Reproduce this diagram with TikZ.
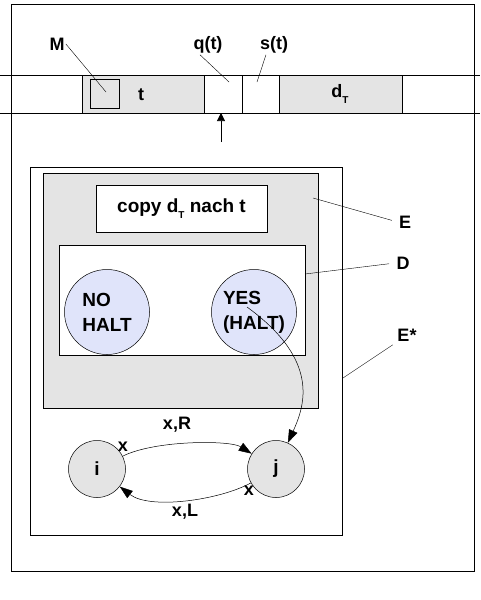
\documentclass[tikz,border=0pt]{standalone}
\usepackage{fontspec}
\setmainfont{Liberation Sans}
\usetikzlibrary{arrows.meta}
\definecolor{boxgray}{RGB}{228,228,228}
\definecolor{haltblue}{RGB}{224,228,250}
\newcommand{\lowsub}[1]{\raisebox{-0.35em}{\fontsize{10}{10}\selectfont #1}}
\tikzset{
    cell/.style={draw, anchor=north west, outer sep=0pt, inner sep=0pt}, % boxes placed by their top left corner
    lbl/.style={inner sep=1pt, font=\fontsize{18}{21}\selectfont\bfseries}, % text labels
    state/.style={circle, draw, line width=0.5pt, inner sep=0pt, font=\fontsize{19}{25}\selectfont\bfseries, align=left}, % round states
    leader/.style={line width=0.4pt}, % thin pointer lines
    tip/.style={line width=0.5pt, -{Triangle[length=13pt, width=9pt]}} % arrows between states
}
\begin{document}
\begin{tikzpicture}[x=1pt, y=-1pt, line width=0.8pt]
    \useasboundingbox (0,0) rectangle (480,600);
    \draw (11,4) rectangle (474,571);

    % tape
    \draw (0,75) -- (480,75) (0,113) -- (480,113);
    \node[cell, fill=boxgray, minimum width=122pt, minimum height=38pt] (tc) at (82,75) {};
    \node[cell, minimum width=38pt, minimum height=38pt] (qc) at (204,75) {};
    \node[cell, minimum width=37pt, minimum height=38pt] (sc) at (242,75) {};
    \node[cell, fill=boxgray, minimum width=123pt, minimum height=38pt] (dc) at (279,75) {};
    \node[cell, minimum width=29pt, minimum height=29pt] (msq) at (90,79) {};
    \node[lbl] (tl) at (141,95) {t};
    \node[lbl] (dl) at (340,94) {d\lowsub{T}};

    \node[lbl] (M) at (57,44) {M};
    \node[lbl] (q) at (208,45) {q(t)};
    \node[lbl] (s) at (274,45) {s(t)};
    \coordinate (mp) at (106,92);
    \coordinate (qp) at (229,82);
    \coordinate (sp) at (257,82);
    \draw[leader] (M.east) -- (mp);
    \draw[leader] ([xshift=-8pt]q.south) -- (qp);
    \draw[leader] ([xshift=-8pt]s.south) -- (sp);

    \coordinate (head) at (221,142);
    \draw[line width=0.6pt, -{Triangle[length=8pt, width=8pt]}] (head) -- (head |- qc.south);

    % machines
    \node[cell, minimum width=312pt, minimum height=368pt] (Estar) at (30,167) {};
    \node[cell, fill=boxgray, minimum width=275pt, minimum height=235pt] (E) at (43,173) {};
    \node[cell, fill=white, minimum width=171pt, minimum height=47pt, font=\fontsize{19}{21}\selectfont\bfseries] (copy) at (96,185) {copy d\lowsub{T} nach t};
    \node[cell, fill=white, minimum width=246pt, minimum height=110pt] (D) at (59,245) {};
    \node[state, fill=haltblue, minimum size=85pt] (no) at (107,312) {NO\\HALT};
    \node[state, fill=haltblue, minimum size=85pt] (yes) at (254,312) {YES\\(HALT)};

    \node[lbl] (El) at (405,222) {E};
    \node[lbl] (Dl) at (403,263) {D};
    \node[lbl] (Esl) at (407,335) {E*};
    \coordinate (ep) at (313,198);
    \coordinate (dp) at (305,274);
    \coordinate (esp) at (343,378);
    \draw[leader, shorten >=6pt] (ep) -- (El.west);
    \draw[leader, shorten >=6pt] (dp) -- (Dl.west);
    \draw[leader, shorten >=4pt] (esp) -- (Esl.south west);

    % loop
    \node[state, fill=boxgray, minimum size=57pt] (i) at (97,469) {i};
    \node[state, fill=boxgray, minimum size=57pt] (j) at (276,469) {j};
    \coordinate (ys) at (247,307);
    \draw[tip] (ys) .. controls (320,360) and (305,405) .. (j);
    \draw[tip] (i) .. controls (155,440) and (230,440) .. (j);
    \draw[tip] (j) .. controls (220,500) and (150,510) .. (i);
    \node[lbl] (xr) at (177,425) {x,R};
    \node[lbl] (xi) at (123,447) {x};
    \node[lbl] (xl) at (185,512) {x,L};
    \node[lbl] (xj) at (249,491) {x};
\end{tikzpicture}
\end{document}
